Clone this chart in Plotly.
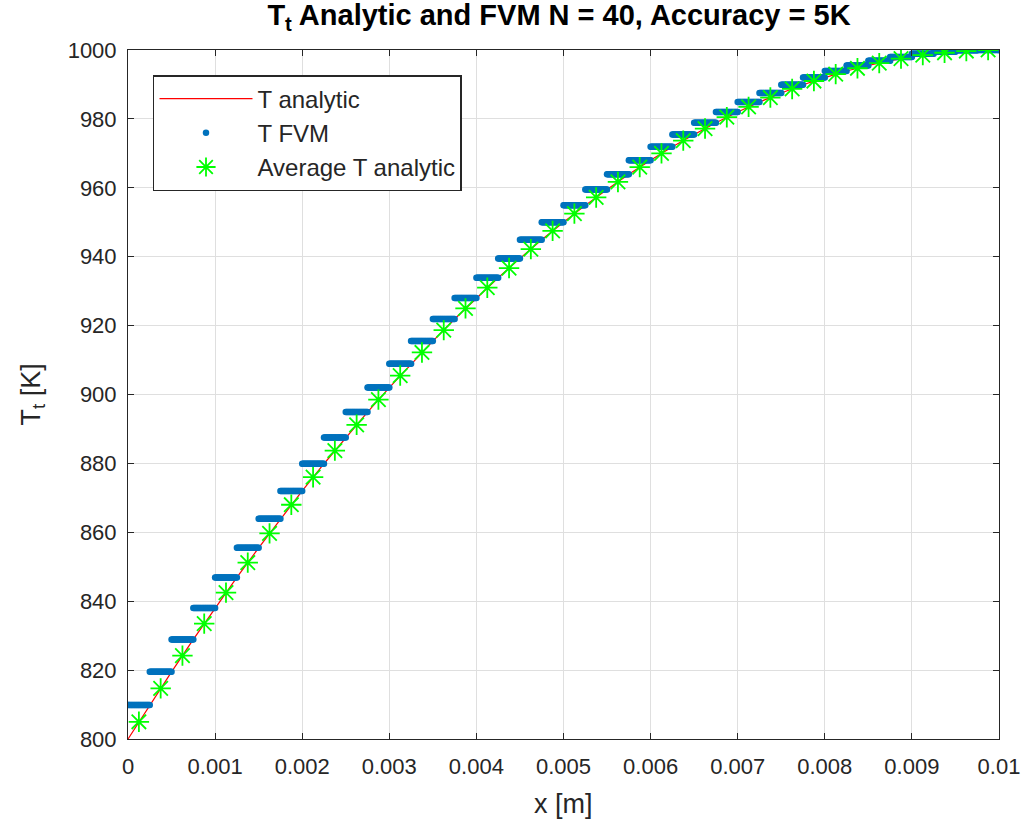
import numpy as np
import plotly.graph_objects as go

# ---- data ----
N = 40
L = 0.01
x_faces = [i * L / N for i in range(N + 1)]
T_analytic = [800.0, 809.9, 819.5, 828.9, 838.0, 846.9, 855.5, 863.9, 872.0, 879.9,
              887.5, 894.9, 902.0, 908.9, 915.5, 921.9, 928.0, 933.9, 939.5, 944.9,
              950.0, 954.9, 959.5, 963.9, 968.0, 971.9, 975.5, 978.9, 982.0, 984.9,
              987.5, 989.9, 992.0, 993.9, 995.5, 996.9, 998.0, 998.9, 999.5, 999.9, 1000.0]
T_fvm = [809.9, 819.5, 828.9, 838.0, 846.9, 855.5, 863.9, 872.0, 879.9, 887.5,
         894.9, 902.0, 908.9, 915.5, 921.9, 928.0, 933.9, 939.5, 944.9, 950.0,
         954.9, 959.5, 963.9, 968.0, 971.9, 975.5, 978.9, 982.0, 984.9, 987.5,
         989.9, 992.0, 993.9, 995.5, 996.9, 998.0, 998.9, 999.5, 999.9, 1000.0]
T_avg = [805.0, 814.7, 824.2, 833.5, 842.5, 851.2, 859.7, 868.0, 876.0, 883.7,
         891.2, 898.5, 905.5, 912.2, 918.7, 925.0, 931.0, 936.7, 942.2, 947.5,
         952.5, 957.2, 961.7, 966.0, 970.0, 973.7, 977.2, 980.5, 983.5, 986.2,
         988.7, 991.0, 993.0, 994.7, 996.2, 997.5, 998.5, 999.2, 999.7, 1000.0]
x_ticks = [0, 0.001, 0.002, 0.003, 0.004, 0.005, 0.006, 0.007, 0.008, 0.009, 0.01]
x_tick_labels = ["0", "0.001", "0.002", "0.003", "0.004", "0.005", "0.006", "0.007", "0.008", "0.009", "0.01"]
y_ticks = [800, 820, 840, 860, 880, 900, 920, 940, 960, 980, 1000]

# FVM dots: many points per cell at the cell value
pts_per_cell = 25
fx, fy = [], []
for i, v in enumerate(T_fvm):
    xs = np.linspace(x_faces[i], x_faces[i + 1], pts_per_cell)
    fx.extend(xs.tolist())
    fy.extend([v] * pts_per_cell)
x_centers = [(x_faces[i] + x_faces[i + 1]) / 2 for i in range(N)]

FONT = "Liberation Sans, Arial, Helvetica, sans-serif"
TXT = "#262626"

fig = go.Figure()
fig.add_trace(go.Scatter(x=x_faces, y=T_analytic, mode="lines", name="T analytic",
                         line=dict(color="#FF0000", width=1.2), legendgroup="a"))
fig.add_trace(go.Scatter(x=fx, y=fy, mode="markers", name="T FVM",
                         marker=dict(color="#0072BD", size=6.5, line=dict(width=0)), legendgroup="b"))
fig.add_trace(go.Scatter(x=x_centers, y=T_avg, mode="markers", name="Average T analytic",
                         marker=dict(symbol="asterisk-open", color="#00FF00", size=17,
                                     line=dict(color="#00FF00", width=1.8)), legendgroup="c"))

axis_common = dict(showgrid=True, gridcolor="#DFDFDF", gridwidth=1,
                   showline=True, linecolor=TXT, linewidth=1, mirror="ticks",
                   ticks="inside", ticklen=6, tickcolor=TXT, zeroline=False,
                   automargin=False,
                   tickfont=dict(family=FONT, size=22, color=TXT))

fig.update_layout(
    width=1023, height=828,
    margin=dict(l=128, r=24, t=50, b=89, autoexpand=False),
    paper_bgcolor="white", plot_bgcolor="white",
    title=dict(text="<b>T<sub>t</sub> Analytic and FVM N = 40, Accuracy = 5K</b>",
               x=559 / 1023, xanchor="center", y=1 - 15 / 828, yanchor="middle",
               font=dict(family=FONT, size=29, color="black")),
    xaxis=dict(range=[0, 0.01], tickvals=x_ticks, ticktext=x_tick_labels,
               ticklabelstandoff=8, **axis_common),
    yaxis=dict(range=[800, 1000], tickvals=y_ticks, ticklabelstandoff=6, **axis_common),
    legend=dict(x=0.0287, y=0.9637, xanchor="left", yanchor="top",
                bgcolor="white", bordercolor=TXT, borderwidth=1.5,
                font=dict(family=FONT, size=24, color=TXT),
                tracegroupgap=0, itemwidth=93),
    showlegend=True,
    annotations=[
        dict(text="x [m]", xref="paper", yref="paper", x=0.5, y=0, xanchor="center",
             yanchor="middle", yshift=-65, showarrow=False,
             font=dict(family=FONT, size=27, color=TXT)),
        dict(text="T<sub>t</sub> [K]", xref="paper", yref="paper", x=0, y=0.5,
             xanchor="center", yanchor="middle", xshift=-96, textangle=-90, showarrow=False,
             font=dict(family=FONT, size=27, color=TXT)),
    ],
)

fig.write_html("out.html")
